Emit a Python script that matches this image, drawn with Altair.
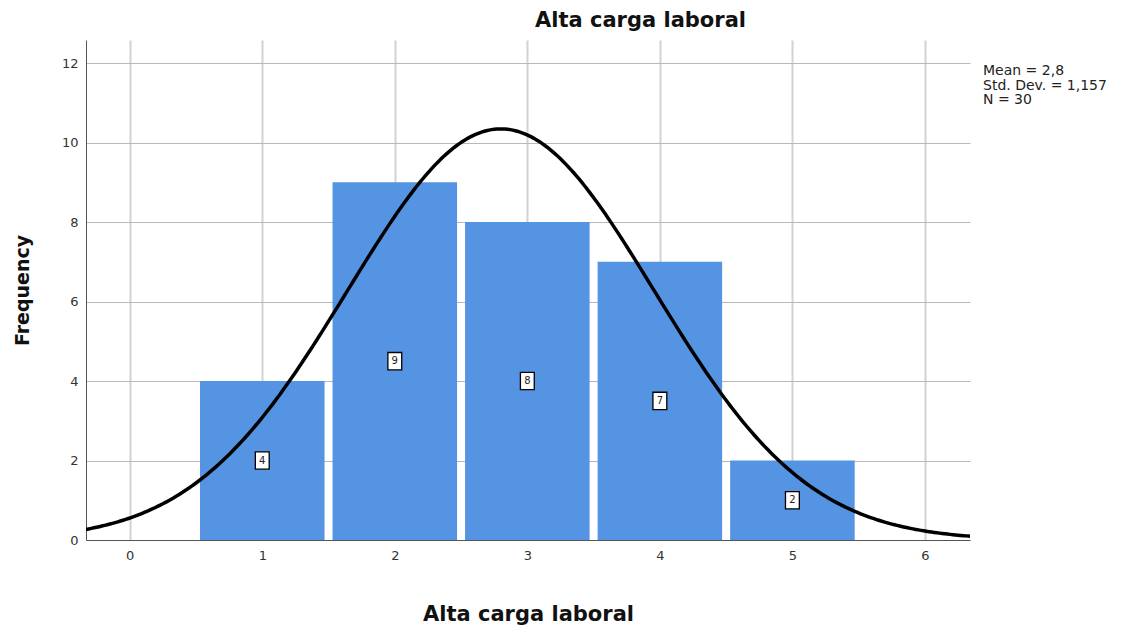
import altair as alt
import pandas as pd

# Data
values = [1, 2, 3, 4, 5]
counts = [4, 9, 8, 7, 2]
mean = 2.8
std_dev = 1.157
n_total = 30
stats_lines = ["Mean = 2,8", "Std. Dev. = 1,157", "N = 30"]

df = pd.DataFrame({"value": values, "count": counts})
df["lo"] = df["value"] - 0.5
df["hi"] = df["value"] + 0.5
df["mid"] = df["count"] / 2

FONT = "DejaVu Sans"
xs = alt.Scale(domain=[-0.33, 6.34], nice=False, zero=False)
ys = alt.Scale(domain=[0, 12.58], nice=False)

base = alt.Chart(df)

bars = base.mark_rect(color="#5593e3", xOffset=4, x2Offset=-4).encode(
    x=alt.X("lo:Q", scale=xs,
            axis=alt.Axis(title="Alta carga laboral", values=[0, 1, 2, 3, 4, 5, 6],
                          format="d", ticks=False, labelPadding=9, titlePadding=41,
                          grid=True, gridColor="#d2d2d2", gridWidth=2,
                          domainColor="#555555", labelColor="#333333",
                          labelFontSize=13, titleFontSize=21, titleFontWeight="bold",
                          titleColor="#111111", labelFont=FONT, titleFont=FONT)),
    x2="hi:Q",
    y=alt.Y("count:Q", scale=ys,
            axis=alt.Axis(title="Frequency", values=[0, 2, 4, 6, 8, 10, 12],
                          ticks=False, labelPadding=8, titlePadding=29,
                          grid=True, gridColor="#b8b8b8", gridWidth=1,
                          domainColor="#555555", labelColor="#333333",
                          labelFontSize=13, titleFontSize=19, titleFontWeight="bold",
                          titleColor="#111111", labelFont=FONT, titleFont=FONT)),
    y2=alt.datum(0),
)

boxes = base.mark_point(
    shape="M-0.8,-1H0.8V1H-0.8Z", size=300, filled=True, fill="white",
    stroke="black", strokeWidth=1.3, opacity=1,
).encode(x=alt.X("value:Q", scale=xs), y=alt.Y("mid:Q", scale=ys))

labels = base.mark_text(fontSize=10, font=FONT, color="#222222").encode(
    x=alt.X("value:Q", scale=xs), y=alt.Y("mid:Q", scale=ys), text="count:Q"
)

curve = (
    alt.Chart(alt.sequence(-0.33, 6.36, 0.02, as_="x"))
    .transform_calculate(
        y=f"{n_total} * exp(-0.5 * pow((datum.x - {mean}) / {std_dev}, 2)) / ({std_dev} * sqrt(2 * PI))"
    )
    .mark_line(color="black", strokeWidth=3.5, clip=True)
    .encode(x=alt.X("x:Q", scale=xs), y=alt.Y("y:Q", scale=ys))
)

stats = alt.Chart(pd.DataFrame({"a": [0]})).mark_text(
    align="left", baseline="top", fontSize=14, font=FONT, color="#222222",
    lineHeight=14.5,
).encode(x=alt.value(897), y=alt.value(24), text=alt.value(stats_lines))

chart = (
    alt.layer(bars, curve, boxes, labels, stats)
    .properties(
        width=884, height=500,
        autosize=alt.AutoSizeParams(type="none"),
        padding={"left": 86, "top": 40, "right": 161, "bottom": 87},
        title=alt.TitleParams("Alta carga laboral", anchor="start", frame="group",
                              dx=449, offset=9,
                              fontSize=21, font=FONT, fontWeight="bold", color="#111111"),
        background="white",
    )
    .configure_view(stroke=None)
)

chart.save("out.html", embed_options={"renderer": "svg", "actions": False})
